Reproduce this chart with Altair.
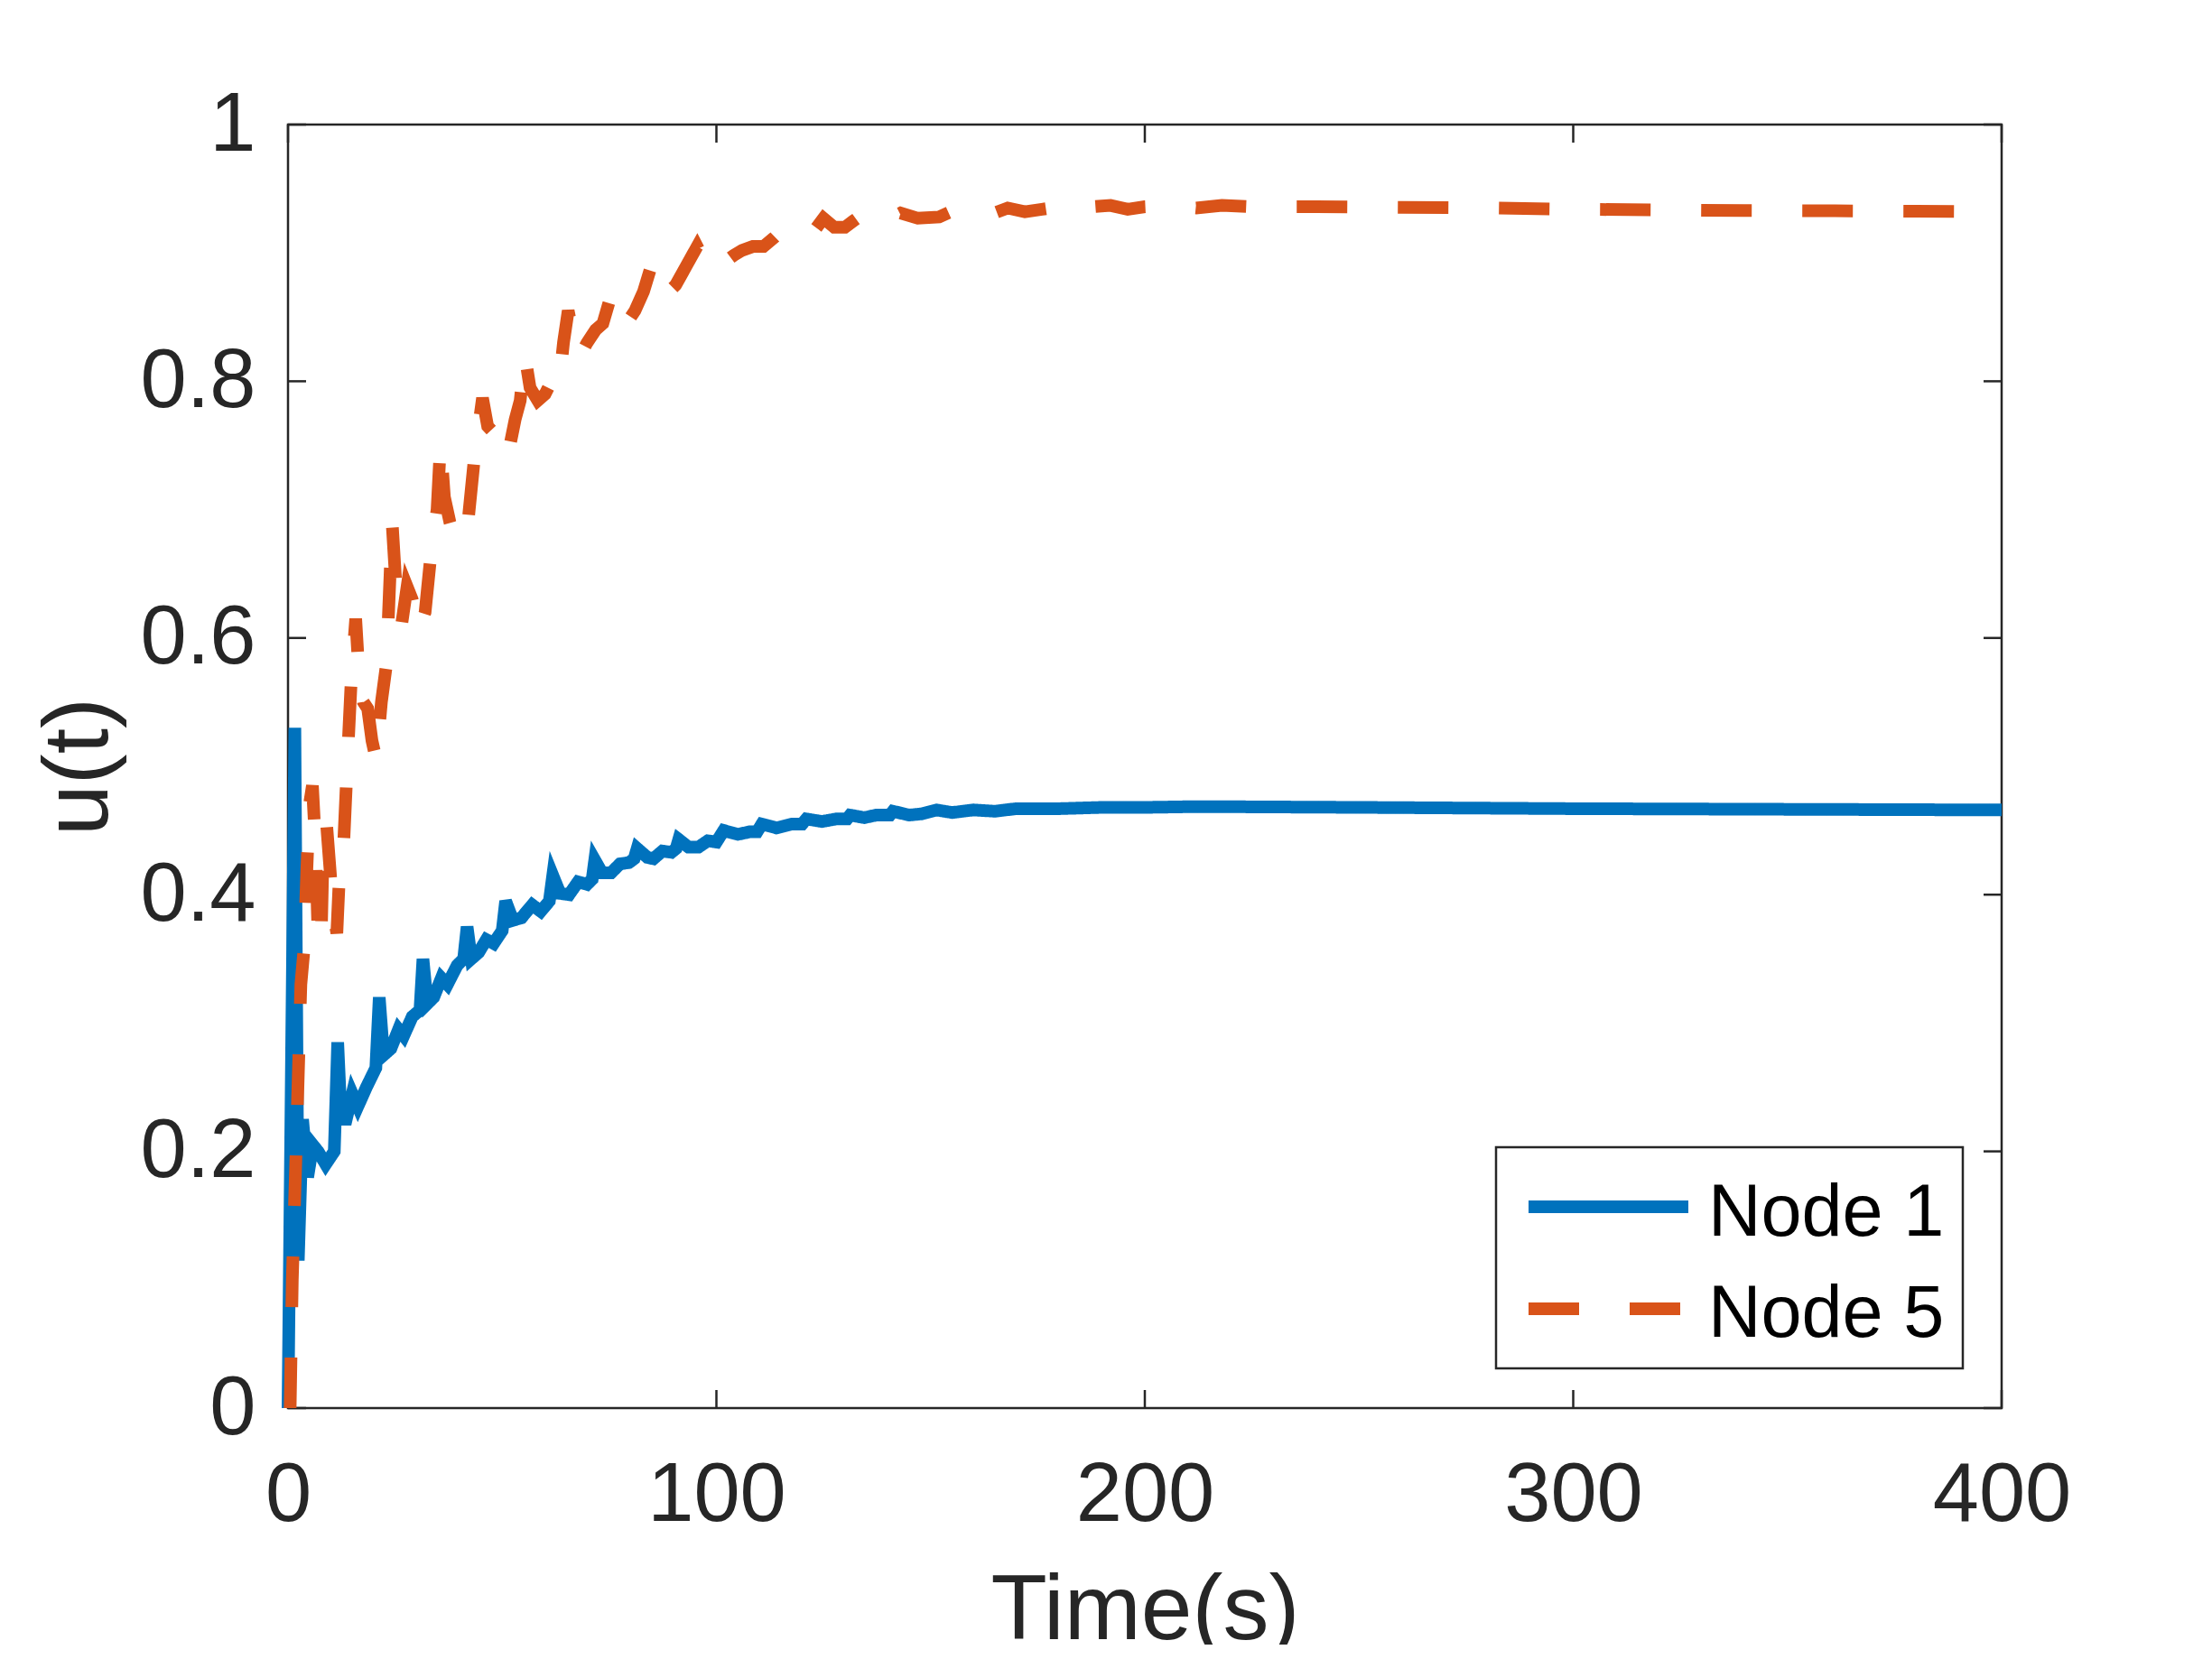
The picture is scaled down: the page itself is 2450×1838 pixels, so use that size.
import altair as alt
import pandas as pd

# ---------------- data ----------------
series_names = ["Node 1", "Node 5"]

t_node1 = [0, 1.6, 2.4, 3.4, 4.6, 5.8, 7.0, 8.8, 10.8, 11.6, 12.4, 13.6, 15.0, 16.3, 18.3,
           20.5, 21.3, 22.3, 24.0, 25.8, 27.0, 29.0, 30.8, 31.5, 32.5, 34.0, 35.8, 37.2,
           39.5, 41.0, 41.8, 42.8, 44.5, 46.3, 48.0, 50.0, 50.8, 52.5, 54.5, 57.0, 59.0,
           61.0, 61.8, 63.5, 65.6, 67.7, 69.8, 71.0, 71.6, 73.3, 75.4, 77.5, 79.6, 80.8,
           81.5, 83.9, 85.3, 87.4, 89.5, 90.6, 91.2, 93.5, 95.8, 98.0, 100.0, 101.7,
           105.0, 107.8, 109.5, 110.6, 114.0, 117.6, 120.0, 121.0, 124.6, 128.0, 130.5,
           131.2, 134.5, 137.3, 140.5, 141.2, 145.0, 148.0, 151.4, 155.0, 160.0, 165.0,
           170.0, 180.0, 190.0, 200.0, 210.0, 220.0, 250.0, 300.0, 350.0, 400.0]
u_node1 = [0.0, 0.53, 0.115, 0.225, 0.18, 0.205, 0.2, 0.19, 0.2, 0.285, 0.225, 0.225, 0.245,
           0.235, 0.25, 0.265, 0.32, 0.275, 0.28, 0.295, 0.29, 0.305, 0.31, 0.35, 0.315,
           0.32, 0.335, 0.33, 0.345, 0.35, 0.375, 0.35, 0.355, 0.365, 0.362, 0.372, 0.395,
           0.38, 0.382, 0.392, 0.387, 0.395, 0.415, 0.401, 0.40, 0.41, 0.408, 0.412, 0.427,
           0.417, 0.417, 0.424, 0.425, 0.428, 0.436, 0.429, 0.428, 0.434, 0.433, 0.436,
           0.443, 0.437, 0.437, 0.442, 0.441, 0.45, 0.447, 0.449, 0.449, 0.455, 0.452,
           0.455, 0.455, 0.459, 0.457, 0.459, 0.459, 0.462, 0.46, 0.462, 0.462, 0.465,
           0.462, 0.463, 0.466, 0.464, 0.466, 0.465, 0.467, 0.467, 0.468, 0.468, 0.4685,
           0.4685, 0.468, 0.467, 0.4665, 0.466]

t_node5 = [0.5, 1.0, 1.8, 2.4, 3.0, 3.8, 4.4, 5.0, 5.7, 6.4, 7.0, 7.7, 8.3, 9.0, 9.8, 10.6,
           11.4, 12.2, 13.0, 13.8, 14.8, 15.8, 16.6, 17.6, 18.6, 19.6, 20.6, 21.8, 23.0,
           24.3, 25.3, 26.5, 27.8, 29.0, 30.5, 32.0, 33.5, 34.8, 35.6, 36.5, 37.8, 39.0,
           40.5, 42.0, 43.5, 45.4, 46.6, 48.0, 49.5, 51.2, 53.0, 54.2, 55.3, 56.5, 58.3,
           60.0, 61.5, 63.2, 64.3, 65.4, 66.6, 68.2, 69.8, 71.8, 73.5, 75.5, 77.0, 79.0,
           81.0, 83.0, 85.0, 86.7, 88.4, 90.5, 93.0, 95.5, 97.5, 100.0, 102.0, 104.0,
           106.0, 108.5, 111.0, 113.5, 116.0, 118.5, 121.0, 123.0, 125.0, 127.5, 130.0,
           132.0, 134.5, 137.0, 140.0, 143.0, 147.0, 152.0, 156.0, 160.0, 164.0, 168.0,
           172.0, 176.0, 180.0, 184.0, 188.0, 192.0, 196.0, 200.0, 206.0, 212.0, 218.0,
           225.0, 240.0, 260.0, 280.0, 300.0, 320.0, 340.0, 360.0, 380.0, 400.0]
u_node5 = [0.0, 0.10, 0.19, 0.26, 0.33, 0.36, 0.42, 0.47, 0.485, 0.44, 0.37, 0.36, 0.45,
           0.455, 0.42, 0.385, 0.37, 0.43, 0.44, 0.50, 0.57, 0.615, 0.57, 0.55, 0.545, 0.52,
           0.505, 0.55, 0.58, 0.69, 0.635, 0.61, 0.64, 0.63, 0.605, 0.62, 0.67, 0.70, 0.752,
           0.71, 0.69, 0.675, 0.685, 0.69, 0.74, 0.787, 0.765, 0.76, 0.745, 0.74, 0.77,
           0.785, 0.82, 0.795, 0.785, 0.79, 0.80, 0.795, 0.83, 0.855, 0.835, 0.82, 0.83,
           0.84, 0.845, 0.868, 0.855, 0.845, 0.855, 0.87, 0.892, 0.88, 0.868, 0.875, 0.89,
           0.905, 0.892, 0.885, 0.893, 0.898, 0.902, 0.905, 0.905, 0.912, 0.92, 0.915,
           0.913, 0.918, 0.927, 0.92, 0.92, 0.925, 0.931, 0.924, 0.926, 0.931, 0.927,
           0.928, 0.934, 0.929, 0.93, 0.935, 0.932, 0.934, 0.936, 0.933, 0.936, 0.937,
           0.934, 0.936, 0.937, 0.935, 0.937, 0.936, 0.936, 0.9355, 0.935, 0.934, 0.9335,
           0.933, 0.9328, 0.9325, 0.932]

x_tick_values = [0, 100, 200, 300, 400]
y_tick_values = [0, 0.2, 0.4, 0.6, 0.8, 1.0]

series_colors = ["#0072BD", "#D95319"]
series_dashes = [[1, 0], [56, 56]]

# ---------------- layout ----------------
W, H = 1898, 1422
FONT = "Liberation Sans"
AX = "#262626"
TICK = 20
LW = 14

df1 = pd.DataFrame({"t": t_node1, "u": u_node1, "series": series_names[0]})
df5 = pd.DataFrame({"t": t_node5, "u": u_node5, "series": series_names[1]})
dfx = pd.DataFrame({"t": x_tick_values})
dfy = pd.DataFrame({"u": y_tick_values})

x_scale = alt.Scale(domain=[0, 400], nice=False, zero=False)
y_scale = alt.Scale(domain=[0, 1], nice=False, zero=False)

x_axis = alt.Axis(values=x_tick_values, format="d", title="Time(s)",
                  labelFontSize=92, labelFont=FONT, labelColor=AX, labelPadding=51,
                  ticks=False, tickSize=0, domain=False, grid=False,
                  labelFlush=False, labelOverlap=False,
                  titleFontSize=102, titleFont=FONT, titleFontWeight="normal",
                  titleColor=AX, titleY=255, titleBaseline="alphabetic")
y_axis = alt.Axis(values=y_tick_values, format="~g", title="u(t)",
                  labelFontSize=92, labelFont=FONT, labelColor=AX, labelPadding=36,
                  ticks=False, tickSize=0, domain=False, grid=False,
                  labelFlush=False, labelOverlap=False,
                  titleFontSize=102, titleFont=FONT, titleFontWeight="normal",
                  titleColor=AX, titleAngle=270, titleX=-201, titleY=H / 2,
                  titleAlign="center", titleBaseline="alphabetic")

color = alt.Color("series:N", scale=alt.Scale(domain=series_names, range=series_colors),
                  legend=None)
dash = alt.StrokeDash("series:N",
                      scale=alt.Scale(domain=series_names, range=series_dashes),
                      legend=None)

X = alt.X("t:Q", scale=x_scale, axis=x_axis)
Y = alt.Y("u:Q", scale=y_scale, axis=y_axis)

tick_style = dict(color=AX, strokeWidth=2.5)
ticks_bottom = alt.Chart(dfx).mark_rule(**tick_style).encode(
    x=X, y=alt.value(H), y2=alt.value(H - TICK))
ticks_top = alt.Chart(dfx).mark_rule(**tick_style).encode(
    x=X, y=alt.value(0), y2=alt.value(TICK))
ticks_left = alt.Chart(dfy).mark_rule(**tick_style).encode(
    y=Y, x=alt.value(0), x2=alt.value(TICK))
ticks_right = alt.Chart(dfy).mark_rule(**tick_style).encode(
    y=Y, x=alt.value(W), x2=alt.value(W - TICK))

line1 = alt.Chart(df1).mark_line(strokeWidth=LW, strokeCap="butt").encode(
    x=X, y=Y, color=color, strokeDash=dash)
line5 = alt.Chart(df5).mark_line(strokeWidth=LW, strokeCap="butt").encode(
    x=X, y=Y, color=color, strokeDash=dash)

# ---------------- legend box (MATLAB style, inside lower right) ----------------
leg_left, leg_right, leg_top, leg_bottom = 1338, 1855, 1133, 1378
sym_x1, sym_x2, text_x = 1374, 1551, 1573
row_y = [1199, 1312]
text_y = [1207, 1319]

leg_df = pd.DataFrame({"series": [series_names[0]]})
legend_box = alt.Chart(leg_df).mark_rect(fill="white", stroke=AX, strokeWidth=2.5).encode(
    x=alt.value(leg_left), x2=alt.value(leg_right),
    y=alt.value(leg_top), y2=alt.value(leg_bottom))

legend_layers = [legend_box]
for i, name in enumerate(series_names):
    d = pd.DataFrame({"series": [name]})
    legend_layers.append(
        alt.Chart(d).mark_rule(strokeWidth=LW, strokeCap="butt").encode(
            x=alt.value(sym_x1), x2=alt.value(sym_x2), y=alt.value(row_y[i]),
            color=color, strokeDash=dash))
    legend_layers.append(
        alt.Chart(d).mark_text(align="left", baseline="middle", fontSize=81,
                               font=FONT, color="black").encode(
            x=alt.value(text_x), y=alt.value(text_y[i]), text="series:N"))

chart = alt.layer(ticks_bottom, ticks_top, ticks_left, ticks_right, line1, line5,
                  *legend_layers).properties(
    width=W, height=H,
    autosize=alt.AutoSizeParams(type="none"),
    padding={"left": 311, "top": 130, "right": 200, "bottom": 262},
    background="white",
).configure(font=FONT).configure_view(
    stroke=AX, strokeWidth=2.5
)

chart.save("out.html", embed_options={"renderer": "svg", "actions": False})
